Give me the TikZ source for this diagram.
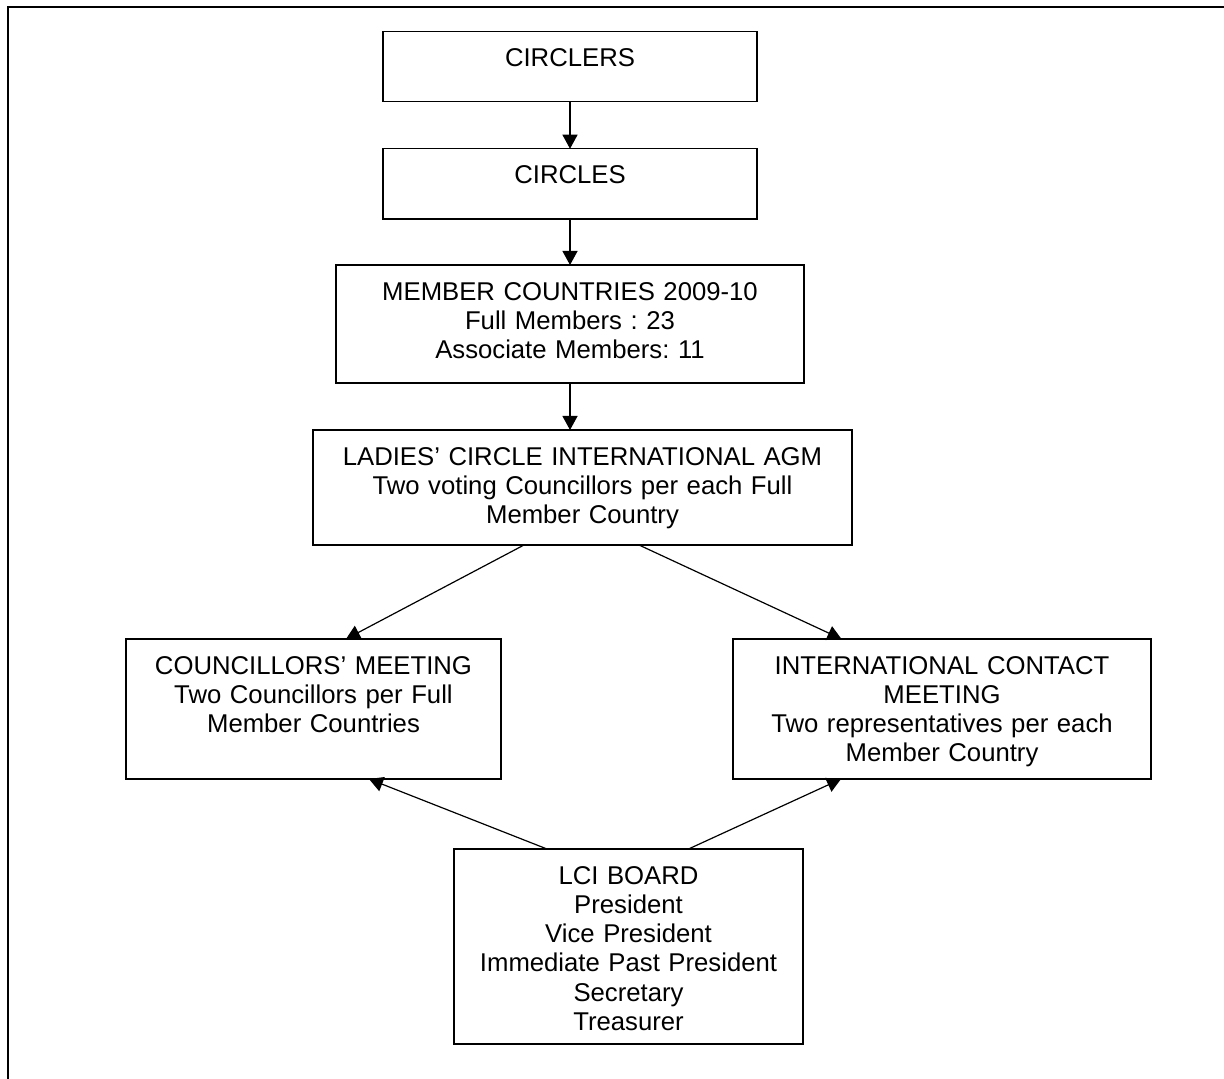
\documentclass[tikz,border=0pt]{standalone}
\usepackage{fontspec}
\setmainfont{Liberation Sans}
\usetikzlibrary{arrows.meta}
\frenchspacing
\tikzstyle{orgbox} = [rectangle, draw=black, line width=0.6pt, inner sep=0pt, outer sep=0pt, align=center, text height=17.6pt, font=\fontsize{12.85pt}{14.6pt}\selectfont]
\tikzstyle{arrow} = [line width=0.6pt, ->, >={Triangle[length=7pt,width=7.5pt]}]

\begin{document}
\begin{tikzpicture}[x=0.5pt, y=-0.5pt]
		\useasboundingbox (0,0) rectangle (1224,1079);
		\coordinate (circlers) at (570,66.5);
		\coordinate (circles) at (570,183.9);
		\coordinate (members) at (570,324);
		\coordinate (agm) at (582.5,487.5);
		\coordinate (council) at (313.5,709);
		\coordinate (contact) at (942,709);
		\coordinate (board) at (628.5,946.5);
		% Page frame
		\draw[line width=1pt] (1224,7) -- (8,7) -- (8,1079);
		% Top column
		\begin{scope}[every node/.style={orgbox}]
		\node[name=circlers, text width=187pt, text depth=17.2pt] at (circlers) {CIRCLERS};
		\node[name=circles, text width=187pt, text depth=17.55pt] at (circles) {CIRCLES};
		\node[name=members, text width=234pt, text depth=41.4pt] at (members) {MEMBER COUNTRIES 2009-10\\ Full Members : 23\\ Associate Members: 11};
		\node[name=agm, text width=269.5pt, text depth=39.9pt] at (agm) {LADIES' CIRCLE INTERNATIONAL AGM\\ Two voting Councillors per each Full\\ Member Country};
		\end{scope}
		% Meetings
		\begin{scope}[every node/.style={orgbox, text depth=52.4pt}]
		\node[name=council, text width=187.5pt] at (council) {COUNCILLORS' MEETING\\ Two Councillors per Full\\ Member Countries};
		\node[name=contact, text width=209pt] at (contact) {INTERNATIONAL CONTACT\\ MEETING\\ Two representatives per each\\ Member Country};
		\end{scope}
		% Board
		\begin{scope}[every node/.style={orgbox}]
		\node[name=board, text width=174.5pt, text depth=79.9pt] at (board) {LCI BOARD\\ President\\ Vice President\\ Immediate Past President\\ Secretary\\ Treasurer};
		\end{scope}
		\draw [arrow] (circlers) -- (circles);
		\draw [arrow] (circles) -- (members);
		\draw [arrow] (members.south) -- (members.south |- agm.north);
		\draw [arrow] ([xshift=-29.25pt]agm.south) -- ([xshift=16.25pt]council.north);
		\draw [arrow] ([xshift=28.25pt]agm.south) -- ([xshift=-50.25pt]contact.north);
		\draw [arrow] ([xshift=-40.75pt]board.north) -- ([xshift=27.75pt]council.south);
		\draw [arrow] ([xshift=30pt]board.north) -- ([xshift=-50.5pt]contact.south);
\end{tikzpicture}
\end{document}
